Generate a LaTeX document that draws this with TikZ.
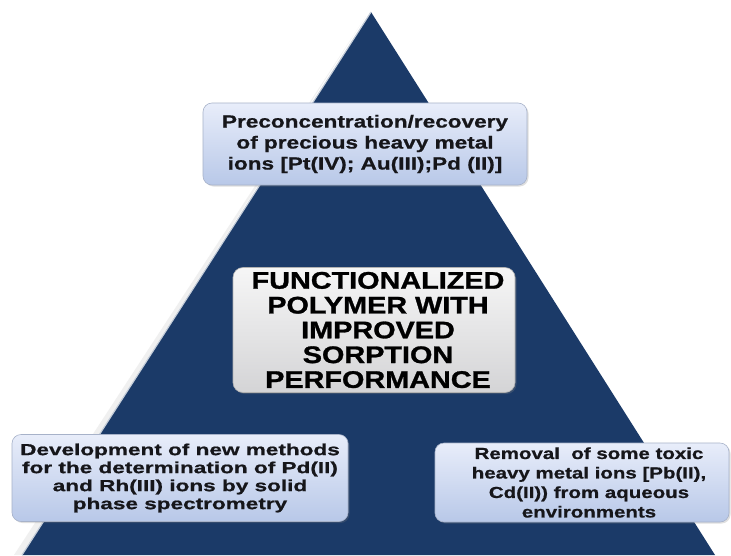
\documentclass[tikz,border=0pt]{standalone}
\usepackage{fontspec}
\setmainfont{Liberation Sans}
\newfontfamily\ftop[FakeStretch=1.29,BoldFeatures={FakeBold=0.8}]{Liberation Sans}
\newfontfamily\fcen[FakeStretch=1.2,BoldFeatures={FakeBold=1.2}]{Liberation Sans}
\newfontfamily\fbl[FakeStretch=1.41,BoldFeatures={FakeBold=0.8}]{Liberation Sans}
\newfontfamily\fbr[FakeStretch=1.28,BoldFeatures={FakeBold=0.8}]{Liberation Sans}
\usetikzlibrary{shadows}
\definecolor{navy}{RGB}{27,58,104}
\definecolor{boxtop}{RGB}{232,237,250}
\definecolor{boxbot}{RGB}{184,200,232}
\definecolor{graytop}{RGB}{246,246,246}
\definecolor{graybot}{RGB}{212,212,214}
\definecolor{txt}{RGB}{22,22,26}
\begin{document}
\begin{tikzpicture}[x=1pt,y=-1pt,
  bluebox/.style={rectangle, rounded corners=9pt, draw=boxbot!70!gray, line width=0.6pt,
    top color=boxtop, bottom color=boxbot, align=center, text=txt, inner sep=0pt,
    drop shadow={opacity=0.25, shadow xshift=1.5pt, shadow yshift=-1.5pt}},
  graybox/.style={rectangle, rounded corners=10pt, draw=gray!60, line width=0.6pt,
    top color=graytop, bottom color=graybot, align=center, text=black, inner sep=0pt,
    drop shadow={opacity=0.3, shadow xshift=1.5pt, shadow yshift=-1.5pt}},
  label/.style={align=center, text=txt, inner sep=0pt}]
\useasboundingbox (0,0) rectangle (731,555);
\fill[white] (0,0) rectangle (731,555);
% soft glow left of triangle
\fill[gray!12] (366,16) -- (14,555) -- (22,555) -- cycle;
% pyramid
\coordinate (apex) at (371,12);
\coordinate (bl) at (22,555);
\coordinate (br) at (715,555);
\fill[navy] (apex) -- (bl) -- (br) -- cycle;
\draw[white!75!navy, line width=1.2pt] (apex) -- (bl);
% boxes
\node[bluebox, minimum width=324pt, minimum height=82pt, font=\ftop\bfseries\fontsize{17.5}{21}\selectfont]
  (top) at (365,144) {Preconcentration/recovery\\of precious heavy metal\\ions [Pt(IV); Au(III);Pd (II)]};
\node[graybox, minimum width=282pt, minimum height=125pt] (center) at (374,330) {};
\node[label, text=black, font=\fcen\bfseries\fontsize{24}{24.8}\selectfont]
  (centertext) at ([xshift=4pt]center.center) {FUNCTIONALIZED\\POLYMER WITH\\IMPROVED\\SORPTION\\PERFORMANCE};
\node[bluebox, minimum width=336pt, minimum height=87pt, font=\fbl\bfseries\fontsize{16}{18}\selectfont]
  (left) at (180,478) {Development of new methods\\for the determination of Pd(II)\\and Rh(III) ions by solid\\phase spectrometry};
\node[bluebox, minimum width=294pt, minimum height=79pt] (right) at (582,482.5) {};
\node[label, font=\fbr\bfseries\fontsize{16}{19.5}\selectfont]
  (righttext) at ([xshift=7pt]right.center) {Removal\ \ of some toxic\\heavy metal ions [Pb(II),\\Cd(II)) from aqueous\\environments};
\end{tikzpicture}
\end{document}
